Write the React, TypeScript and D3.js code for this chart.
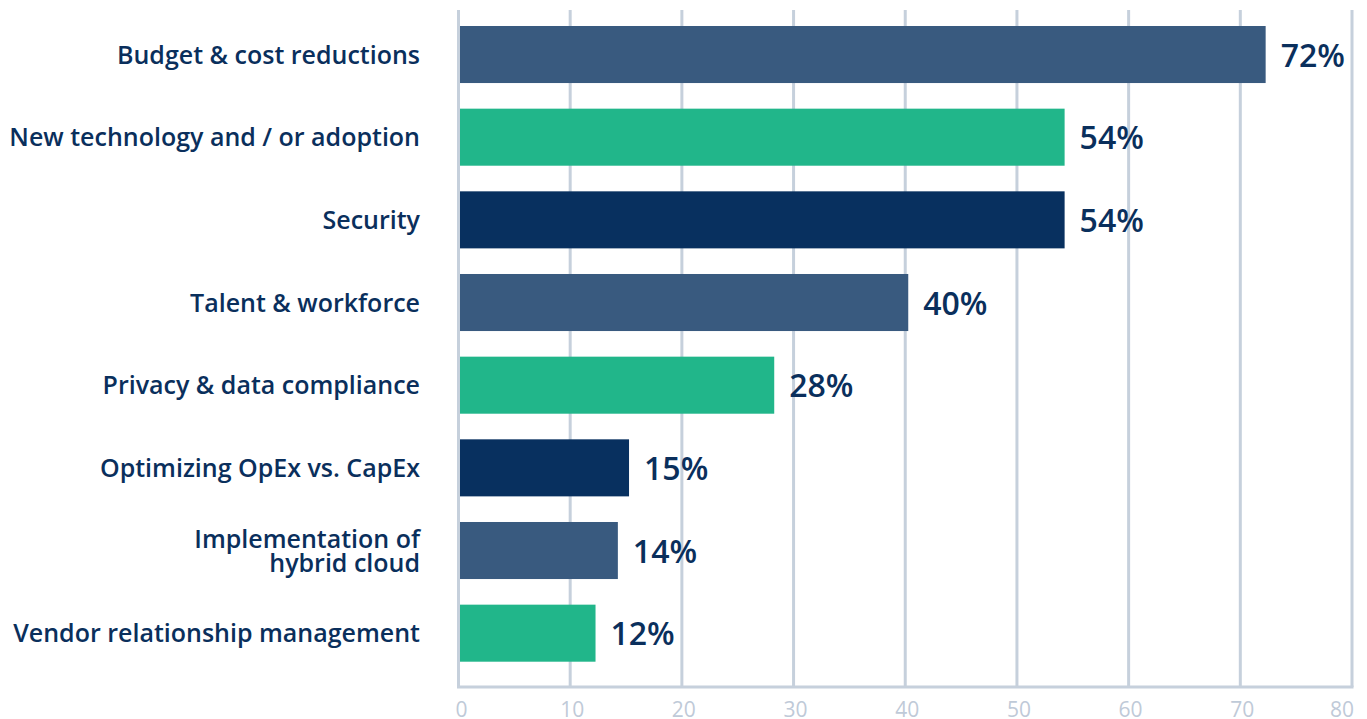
import React from "react";
import * as d3 from "d3";

const categories: string[][] = [
  ["Budget & cost reductions"],
  ["New technology and / or adoption"],
  ["Security"],
  ["Talent & workforce"],
  ["Privacy & data compliance"],
  ["Optimizing OpEx vs. CapEx"],
  ["Implementation of", "hybrid cloud"],
  ["Vendor relationship management"],
];
const values: number[] = [72, 54, 54, 40, 28, 15, 14, 12];
const barColors: string[] = ["#395a7f", "#21b68a", "#08305f", "#395a7f", "#21b68a", "#08305f", "#395a7f", "#21b68a"];
const ticks: number[] = [0, 10, 20, 30, 40, 50, 60, 70, 80];

const W = 1367;
const H = 719;

export default function App() {
  const x = d3.scaleLinear().domain([0, 80]).range([458.5, 1352]);
  const idx = d3.range(values.length).map(String);
  const y = d3.scaleBand<string>().domain(idx).range([26, 661.7]).paddingInner(0.31).paddingOuter(0);
  const grid = "#c6d0dc";
  const navy = "#0a2f5c";
  const font = "'Open Sans', sans-serif";
  return (
    <svg width={W} height={H} style={{ position: "absolute", left: 0, top: 0, background: "#fff" }}>
      {ticks.map((t) => (
        <line key={"g" + t} x1={x(t)} x2={x(t)} y1={10} y2={687} stroke={grid} strokeWidth={3} />
      ))}
      <line x1={x(0) - 1.5} x2={x(80) + 1.5} y1={687} y2={687} stroke={grid} strokeWidth={3} />
      {ticks.map((t, i) => (
        <text
          key={"t" + t}
          x={i === 0 ? x(t) - 3 : i === ticks.length - 1 ? x(t) + 2 : x(t) + 2}
          y={717}
          textAnchor={i === 0 ? "start" : i === ticks.length - 1 ? "end" : "middle"}
          fontFamily={font}
          fontSize={21}
          fill="#bfcad8"
        >
          {t}
        </text>
      ))}
      {values.map((v, i) => {
        const y0 = y(String(i))!;
        const bw = y.bandwidth();
        const cy = y0 + bw / 2;
        const lines = categories[i];
        return (
          <g key={"b" + i}>
            <rect x={x(0) + 1.5} y={y0} width={x(v) - x(0) + 1.5} height={bw} fill={barColors[i]} />
            <text x={x(v) + 18} y={cy + 12} fontFamily={font} fontSize={32} fontWeight={600} fill={navy}>
              {v + "%"}
            </text>
            {lines.map((l, j) => (
              <text
                key={j}
                x={420}
                y={cy + 9 + (j - (lines.length - 1) / 2) * 24}
                textAnchor="end"
                fontFamily={font}
                fontSize={25}
                fontWeight={600}
                fill={navy}
              >
                {l}
              </text>
            ))}
          </g>
        );
      })}
    </svg>
  );
}
